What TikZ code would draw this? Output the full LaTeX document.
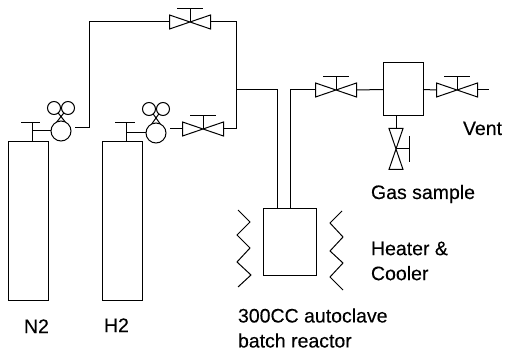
\documentclass[tikz,border=0pt]{standalone}
\usepackage{fontspec}
\setmainfont{Liberation Sans}[FakeBold=0.25]

\tikzset{
  vessel/.style={draw, rectangle, inner sep=0pt, outer sep=0pt},
  gauge/.style={draw, circle, inner sep=0pt, outer sep=0pt, minimum size=20pt},
  dial/.style={draw, circle, inner sep=0pt, outer sep=0pt, minimum size=13pt},
  valvebody/.style={rectangle, inner sep=0pt, outer sep=0pt, minimum width=41pt, minimum height=14pt, transform shape},
  label/.style={inner sep=0pt, outer sep=0pt, font=\fontsize{19.5}{25}\selectfont},
}

% 弁: [回転角]{名前}{位置}
\newcommand{\valve}[3][0]{%
  \begin{scope}[shift={(#3)}, rotate=#1]
    \node[valvebody] (#2) at (0,0) {};
    \draw (#2.south west) -- (#2.north east) -- (#2.south east) -- (#2.north west) -- cycle;
    \draw (0,0) -- (0,13) (-13,13) -- (13,13);
  \end{scope}}

\begin{document}
\begin{tikzpicture}[x=1pt, y=1pt, line width=1pt]
  \useasboundingbox (0,0) rectangle (506,351);

  % --- 1. cylinders ---
  \node[vessel, minimum width=40pt, minimum height=158pt] (cylN) at (28,130) {};
  \node[vessel, minimum width=40pt, minimum height=158pt] (cylH) at (122,130) {};

  % cylinder heads
  \coordinate (neckN) at (32,228);
  \coordinate (neckH) at (126,228);
  \draw (neckN |- cylN.north) -- (neckN) (21,228) -- (40,228);
  \draw (neckH |- cylH.north) -- (neckH) (115,228) -- (135,228);

  % --- 2. regulators ---
  \node[gauge] (gaugeN) at (61,220) {};
  \node[dial] (dialNa) at (54,243) {};
  \node[dial] (dialNb) at (68,243) {};
  \draw (32,220) -- (gaugeN.west);
  \draw (dialNa.-50) -- (gaugeN.65) (dialNb.230) -- (gaugeN.115);

  \node[gauge] (gaugeH) at (156,218) {};
  \node[dial] (dialHa) at (149,242) {};
  \node[dial] (dialHb) at (163,242) {};
  \draw (126,218) -- (gaugeH.west);
  \draw (dialHa.-50) -- (gaugeH.65) (dialHb.230) -- (gaugeH.115);

  % --- 3. valves ---
  \valve{valveN}{190,329}
  \valve{valveH}{203,222}
  \valve{valveIn}{336,261}
  \valve{valveVent}{457,261}
  \valve[-90]{valveGas}{396,202}

  % --- 4. pipes ---
  \coordinate (outN) at (75,223);
  \coordinate (outH) at (170,222);
  \coordinate (join) at (236.5,261);
  \coordinate (ventEnd) at (489,261);

  \draw (outN) -- (89,223) -- (89,329) -- (valveN.west);
  \draw (valveN.east) -- (236.5,329) -- (236.5,222) -- (valveH.east);
  \draw (outH) -- (valveH.west);

  % --- 5. reactor, sample pot ---
  \node[vessel, minimum width=53pt, minimum height=66pt] (reactor) at (289.5,109) {};
  \node[vessel, minimum width=40pt, minimum height=53pt] (pot) at (403,261.5) {};

  \draw (join) -- (277,261) -- (277,142);
  \draw (290,142) -- (290,261) -- (valveIn.west);
  \draw (valveIn.east) -- (pot.west);
  \draw (pot.east) -- (valveVent.west);
  \draw (valveVent.east) -- (ventEnd);
  \draw (pot.south -| valveGas) -- (valveGas.west);

  % heater
  \draw (238,141) -- (250,129) -- (237,116) -- (250,103) -- (237,89) -- (251,76) -- (238,64);
  \draw (342,140) -- (330,128) -- (343,114) -- (330,100) -- (343,88) -- (330,74) -- (343,61);

  % --- 6. labels ---
  \node[label, anchor=base west] (lblN) at (24,18) {N2};
  \node[label, anchor=base west] (lblH) at (104,19) {H2};
  \node[label, anchor=base west] (lblVent) at (463,216) {Vent};
  \node[label, anchor=base west] (lblGas) at (371,152) {Gas sample};
  \node[label, anchor=west, align=left] (lblHeater) at (371,90) {Heater \&\\Cooler};
  \node[label, anchor=west, align=left] (lblReactor) at (238,23) {300CC autoclave\\batch reactor};
\end{tikzpicture}
\end{document}
